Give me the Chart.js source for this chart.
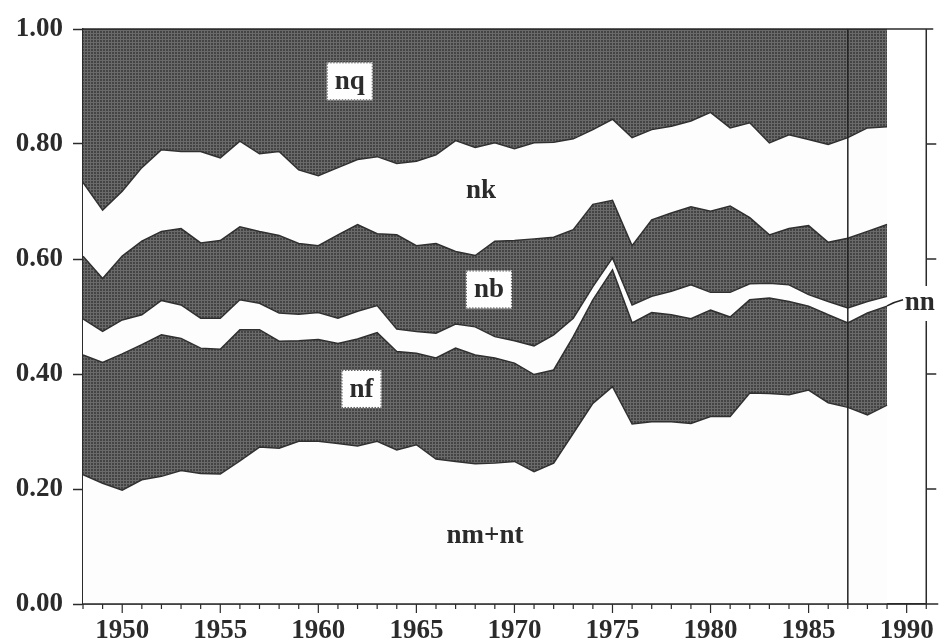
<!DOCTYPE html>
<html>
<head>
<meta charset="utf-8">
<script src="https://cdn.jsdelivr.net/npm/chart.js@4.4.1/dist/chart.umd.min.js"></script>
<style>
  html, body { margin: 0; padding: 0; background: #fff; }
  #wrap { width: 945px; height: 643px; position: relative; }
</style>
</head>
<body>
<div id="wrap"><canvas id="chart" width="945" height="643"></canvas></div>
<script>
// shares per year, stacked bottom to top
const years = [1948, 1949, 1950, 1951, 1952, 1953, 1954, 1955, 1956, 1957,
               1958, 1959, 1960, 1961, 1962, 1963, 1964, 1965, 1966, 1967,
               1968, 1969, 1970, 1971, 1972, 1973, 1974, 1975, 1976, 1977,
               1978, 1979, 1980, 1981, 1982, 1983, 1984, 1985, 1986, 1987,
               1988, 1989];

const nmnt = [.225, .210, .198, .216, .222, .232, .227, .226, .249, .273,
              .271, .283, .283, .279, .275, .283, .268, .277, .252, .248,
              .244, .245, .248, .230, .245, .297, .349, .378, .313, .317,
              .317, .314, .326, .326, .367, .366, .364, .372, .350, .342,
              .329, .346];
const nf   = [.208, .210, .237, .235, .246, .230, .218, .217, .228, .204,
              .186, .175, .177, .174, .186, .189, .171, .159, .176, .197,
              .189, .183, .171, .169, .162, .168, .180, .203, .176, .190,
              .186, .182, .185, .173, .162, .166, .162, .146, .153, .147,
              .177, .172];
const nn   = [.063, .054, .059, .052, .060, .058, .052, .054, .052, .046,
              .049, .046, .047, .044, .048, .047, .039, .038, .043, .042,
              .049, .037, .039, .050, .061, .032, .023, .021, .031, .028,
              .041, .059, .031, .043, .028, .026, .029, .020, .023, .026,
              .020, .017];
const nb   = [.109, .092, .111, .128, .120, .133, .131, .135, .127, .125,
              .135, .123, .116, .145, .151, .125, .164, .149, .156, .126,
              .124, .166, .174, .186, .170, .154, .143, .100, .103, .133,
              .136, .136, .141, .150, .115, .084, .098, .120, .103, .121,
              .122, .125];
const nk   = [.128, .119, .113, .128, .142, .134, .159, .144, .149, .135,
              .146, .128, .122, .117, .113, .134, .124, .147, .154, .193,
              .188, .171, .160, .167, .165, .158, .130, .141, .188, .157,
              .151, .149, .172, .136, .165, .160, .163, .150, .170, .175,
              .180, .170];
const nq   = [.267, .315, .282, .241, .210, .213, .213, .224, .195, .217,
              .213, .245, .255, .241, .227, .222, .234, .230, .219, .194,
              .206, .198, .208, .198, .197, .191, .175, .157, .189, .175,
              .169, .160, .145, .172, .163, .198, .184, .192, .201, .189,
              .172, .170];

const xLabels = [1950, 1955, 1960, 1965, 1970, 1975, 1980, 1985, 1990];
const yTicks = [0, 0.2, 0.4, 0.6, 0.8, 1.0];
const splitYear = 1987;

const INK = '#2b2b2b';
const FONT = 'Liberation Serif';

function makeHatch(ctx) {
    const c = document.createElement('canvas');
    c.width = 3; c.height = 3;
    const g = c.getContext('2d');
    g.fillStyle = '#444444';
    g.fillRect(0, 0, 3, 3);
    g.fillStyle = '#6a6a6a';
    g.fillRect(0, 0, 3, 1);
    g.fillRect(0, 0, 1, 3);
    return ctx.createPattern(c, 'repeat');
}

const canvas = document.getElementById('chart');
const hatch = makeHatch(canvas.getContext('2d'));
const paper = '#fdfdfd';

function series(label, values, fillStyle, fillMode) {
    return {
        label: label,
        data: years.map((yr, i) => ({ x: yr, y: values[i] })),
        backgroundColor: fillStyle,
        borderColor: '#303030',
        borderWidth: 1.5,
        pointRadius: 0,
        tension: 0,
        fill: fillMode
    };
}

// labels, right axis, split line, extra ticks
const decorations = {
    id: 'decorations',
    afterDraw(chart) {
        const { ctx, chartArea: a, scales: { x, y } } = chart;
        ctx.save();
        ctx.strokeStyle = INK;
        ctx.lineWidth = 1.5;

        // top border and bottom axis run a little past the frame
        ctx.beginPath();
        ctx.moveTo(a.left, a.top);
        ctx.lineTo(a.right + 7, a.top);
        ctx.moveTo(a.left, a.bottom);
        ctx.lineTo(a.right + 12, a.bottom);
        ctx.stroke();

        // right axis with a gap for the nn label
        const gapTop = y.getPixelForValue(0.553);
        const gapBot = y.getPixelForValue(0.492);
        ctx.beginPath();
        ctx.moveTo(a.right, a.top);
        ctx.lineTo(a.right, gapTop);
        ctx.moveTo(a.right, gapBot);
        ctx.lineTo(a.right, a.bottom);
        yTicks.forEach(v => {
            if (v <= 0 || v >= 1) return;
            const py = y.getPixelForValue(v);
            ctx.moveTo(a.right, py);
            ctx.lineTo(a.right + 10, py);
        });
        ctx.stroke();

        // year ticks below the axis, longer every five years
        ctx.lineWidth = 1.2;
        ctx.beginPath();
        for (let yr = 1948; yr <= 1991; yr++) {
            const px = x.getPixelForValue(yr);
            const len = xLabels.includes(yr) ? 9 : 5;
            ctx.moveTo(px, a.bottom);
            ctx.lineTo(px, a.bottom + len);
        }
        ctx.stroke();

        // split line
        const sx = x.getPixelForValue(splitYear);
        ctx.strokeStyle = '#222';
        ctx.lineWidth = 1.5;
        ctx.beginPath();
        ctx.moveTo(sx, a.top);
        ctx.lineTo(sx, a.bottom);
        ctx.stroke();

        // nn leader
        const ex = x.getPixelForValue(1989);
        const ey = y.getPixelForValue(0.522);
        ctx.lineWidth = 1.5;
        ctx.beginPath();
        ctx.moveTo(ex, ey + 2);
        ctx.quadraticCurveTo(ex + 8, ey - 2, ex + 16, ey - 4);
        ctx.stroke();

        ctx.font = 'bold 27px "' + FONT + '"';
        ctx.textAlign = 'center';
        ctx.textBaseline = 'middle';
        const tag = (text, vx, vy, boxed) => {
            const px = x.getPixelForValue(vx);
            const py = y.getPixelForValue(vy);
            if (boxed) {
                const w = ctx.measureText(text).width + 16;
                const h = 38;
                ctx.fillStyle = '#fefefe';
                ctx.fillRect(px - w / 2, py - h / 2, w, h);
                ctx.setLineDash([1.5, 1.5]);
                ctx.strokeStyle = '#555';
                ctx.lineWidth = 1;
                ctx.strokeRect(px - w / 2 + 0.5, py - h / 2 + 0.5, w - 1, h - 1);
                ctx.setLineDash([]);
            }
            ctx.fillStyle = INK;
            ctx.fillText(text, px, py + 1);
        };
        tag('nq', 1961.6, 0.909, true);
        tag('nk', 1968.3, 0.720, false);
        tag('nb', 1968.7, 0.547, true);
        tag('nf', 1962.2, 0.374, true);
        tag('nm+nt', 1968.5, 0.120, false);
        ctx.textAlign = 'left';
        tag('nn', 1989.9, 0.525, false);
        ctx.restore();
    }
};

new Chart(canvas, {
    type: 'line',
    data: {
        datasets: [
            series('nm+nt', nmnt, paper, 'origin'),
            series('nf', nf, hatch, '-1'),
            series('nn', nn, paper, '-1'),
            series('nb', nb, hatch, '-1'),
            series('nk', nk, paper, '-1'),
            series('nq', nq, hatch, '-1')
        ]
    },
    options: {
        responsive: false,
        animation: false,
        events: [],
        layout: { padding: { top: 29, right: 15, left: 0, bottom: 0 } },
        plugins: {
            legend: { display: false },
            tooltip: { enabled: false }
        },
        scales: {
            x: {
                type: 'linear',
                min: 1948,
                max: 1991,
                afterBuildTicks: scale => {
                    scale.ticks = xLabels.map(v => ({ value: v }));
                },
                afterFit: scale => { scale.height = 39; },
                grid: { display: true, drawOnChartArea: false, drawTicks: false },
                border: { display: true, color: INK, width: 1.5 },
                ticks: {
                    autoSkip: false,
                    maxRotation: 0,
                    padding: 11,
                    color: INK,
                    font: { family: FONT, weight: 'bold', size: 27 },
                    callback: v => String(v)
                }
            },
            y: {
                stacked: true,
                min: 0,
                max: 1,
                afterBuildTicks: scale => {
                    scale.ticks = yTicks.map(v => ({ value: v }));
                },
                afterFit: scale => { scale.width = 83; },
                grid: { drawOnChartArea: false, tickLength: 10, tickColor: INK, tickWidth: 1.5 },
                border: { display: true, color: INK, width: 1.5 },
                ticks: {
                    padding: 10,
                    color: INK,
                    font: { family: FONT, weight: 'bold', size: 27 },
                    callback: v => v.toFixed(2)
                }
            }
        }
    },
    plugins: [decorations]
});
</script>
</body>
</html>
